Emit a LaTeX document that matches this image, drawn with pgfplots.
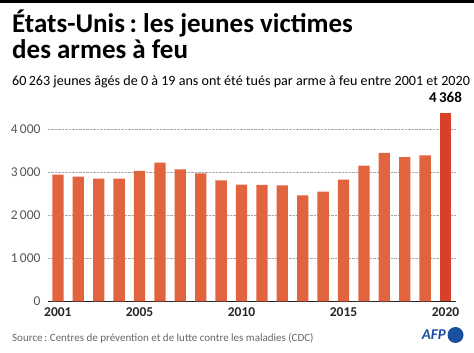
\documentclass[border=0pt]{standalone}
\usepackage{fontspec}
\setmainfont{Carlito}
\usepackage{pgfplots}
\pgfplotsset{compat=1.18}
\definecolor{barc}{HTML}{E2643F}
\definecolor{lastc}{HTML}{D8402A}
\definecolor{gridc}{HTML}{A8A8A8}
\definecolor{tickc}{HTML}{555555}
\definecolor{srcc}{HTML}{666666}
\definecolor{afpblue}{HTML}{1B4FA0}
\begin{document}
\frenchspacing
\begin{tikzpicture}
\path[use as bounding box] (0pt,0pt) rectangle (474pt,353pt);
\fill[black] (0pt,350pt) rectangle (474pt,353pt);
\node[anchor=base west, inner sep=0pt, font=\bfseries\fontsize{27}{29}\selectfont] at (12pt,320pt) {États-Unis\,: les jeunes victimes};
\node[anchor=base west, inner sep=0pt, font=\bfseries\fontsize{27}{29}\selectfont] at (12pt,294pt) {des armes à feu};
\node[anchor=base west, inner sep=0pt, font=\fontsize{14.1}{16}\selectfont] at (12pt,267pt) {60\,263 jeunes âgés de 0 à 19 ans ont été tués par arme à feu entre 2001 et 2020};
\begin{axis}[
  at={(47.7pt,51.7pt)}, anchor=south west,
  scale only axis, width=408pt, height=189.6pt,
  xmin=2000.5, xmax=2020.5, ymin=0, ymax=4400,
  axis lines*=left,
  x axis line style={draw=black!85, line width=0.9pt},
  y axis line style={draw=none},
  major tick length=0pt,
  ymajorgrids, grid style={densely dotted, gridc, line width=0.6pt},
  ytick={0,1000,2000,3000,4000},
  yticklabels={0,1\,000,2\,000,3\,000,4\,000},
  yticklabel style={font=\fontsize{13.5}{15}\selectfont, text=tickc, anchor=east, inner sep=0pt, xshift=-7pt},
  xtick={2001,2005,2010,2015,2020},
  xticklabels={2001,2005,2010,2015,2020},
  xticklabel style={font=\bfseries\fontsize{13.5}{15}\selectfont, text=black!85, anchor=north, inner sep=0pt, yshift=-6pt},
  ybar, bar width=11.3pt, bar shift=0pt,
  clip=false,
]
\addplot[fill=barc, draw=none] coordinates {
(2001,2939) (2002,2893) (2003,2846) (2004,2846) (2005,3025)
(2006,3218) (2007,3064) (2008,2971) (2009,2809) (2010,2707)
(2011,2700) (2012,2693) (2013,2461) (2014,2544) (2015,2823)
(2016,3148) (2017,3443) (2018,3343) (2019,3389)};
\addplot[fill=lastc, draw=none, point meta=explicit symbolic,
  nodes near coords, nodes near coords style={font=\bfseries\fontsize{15}{17}\selectfont, text=black, anchor=south, inner sep=0pt, yshift=10pt}]
  coordinates {(2020,4368) [4\,368]};
\end{axis}
\node[anchor=base west, inner sep=0pt, font=\fontsize{11}{13}\selectfont, text=srcc] at (12pt,11.3pt) {Source\,: Centres de prévention et de lutte contre les maladies (CDC)};
\node[anchor=east, inner sep=0pt, font=\bfseries\itshape\fontsize{15}{17}\selectfont, text=afpblue] at (446pt,18pt) {AFP};
\fill[afpblue] (455.5pt,18pt) circle (8pt);
\end{tikzpicture}
\end{document}
